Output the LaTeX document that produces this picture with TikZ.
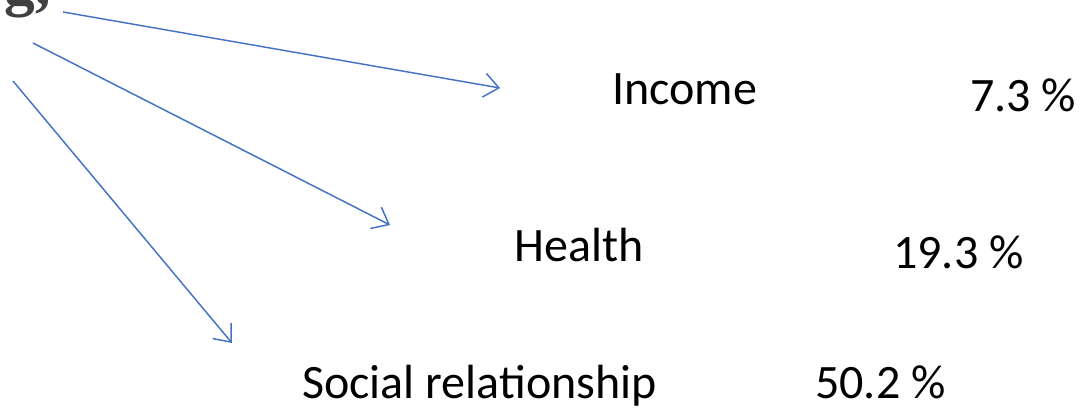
\documentclass[tikz,border=0pt]{standalone}
\usepackage{fontspec}
\setmainfont{Carlito}
\newfontfamily\titlefont{Liberation Serif}
\usetikzlibrary{arrows.meta, positioning}
\definecolor{arrowblue}{RGB}{68,114,196}
\definecolor{titlegray}{RGB}{64,64,64}
\tikzset{
  factor/.style={anchor=base west, inner sep=0pt, font=\fontsize{36}{42}\selectfont},
  pointer/.style={draw=arrowblue, line width=1.1pt, -{Straight Barb[length=11pt, width=18pt, line width=1.1pt]}},
}
\begin{document}
\begin{tikzpicture}[x=0.75pt, y=-0.75pt]
	\useasboundingbox (0,0) rectangle (1080,407);
	\clip (0,0) rectangle (1080,407);
	\node[anchor=base east, inner sep=0pt, text=titlegray, font=\titlefont\bfseries\fontsize{46}{50}\selectfont] (title) at (51,4) {g,};
	\coordinate (s1) at (63,12);
	\coordinate (s2) at (33,43);
	\coordinate (s3) at (13,81);
	\coordinate (e1) at (500,88);
	\coordinate (e2) at (390,225);
	\coordinate (e3) at (232,343);
	\node[factor] (income) at (612,104) {Income};
	\node[factor] (pincome) at (970,111) {7.3 \%};
	\node[factor] (health) at (514,261) {Health};
	\node[factor] (phealth) at (893,268) {19.3 \%};
	\node[factor] (social) at (302,398) {Social relationship};
	\node[factor] (psocial) at (815,398) {50.2 \%};
	\draw[pointer] (s1) -- (e1);
	\draw[pointer] (s2) -- (e2);
	\draw[pointer] (s3) -- (e3);
\end{tikzpicture}
\end{document}
